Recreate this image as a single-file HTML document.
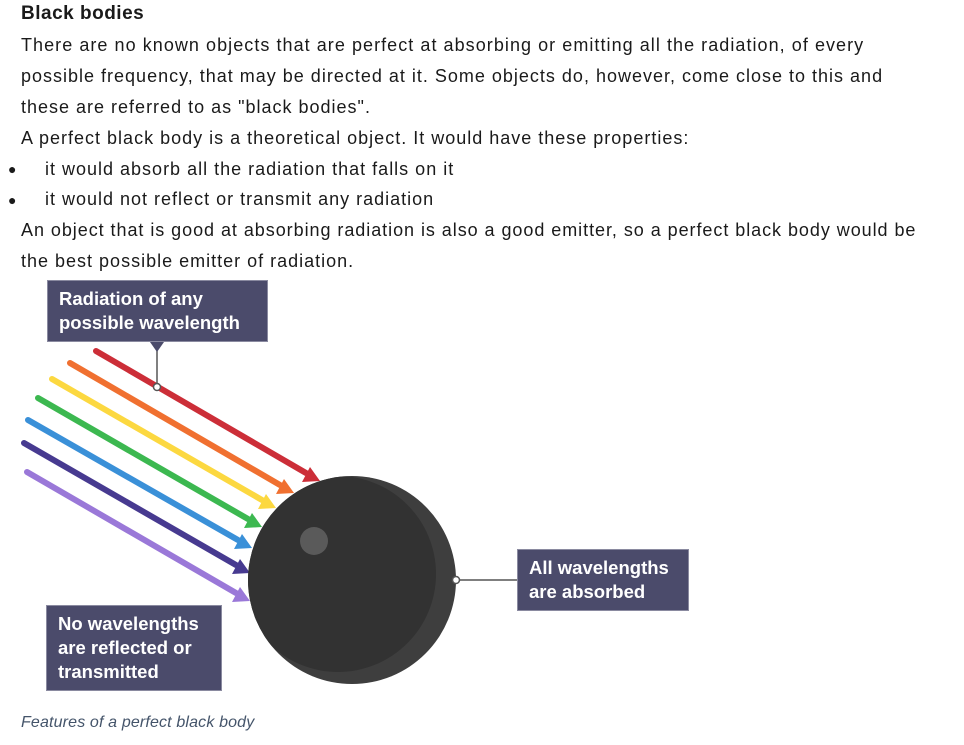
<!DOCTYPE html>
<html><head><meta charset="utf-8">
<style>
body{margin:0;width:964px;height:745px;background:#fff;position:relative;overflow:hidden;font-family:"Liberation Sans",sans-serif;color:#1a1a1a}
.l{position:absolute;left:21px;font-size:18px;letter-spacing:1.0px;white-space:nowrap;line-height:20px}
.b{position:absolute;left:8px;font-size:14px}
.box{position:absolute;background:#4b4b6b;color:#fff;font-weight:bold;font-size:18.5px;line-height:24px;padding:6px 11px;box-sizing:border-box;border:1px solid #8a8aa0;white-space:nowrap}
</style></head><body>
<div class="l" style="top:4px;font-weight:bold;font-size:19px;letter-spacing:0.5px">Black bodies</div>
<div class="l" style="top:35px;letter-spacing:1.05px">There are no known objects that are perfect at absorbing or emitting all the radiation, of every</div>
<div class="l" style="top:66px">possible frequency, that may be directed at it. Some objects do, however, come close to this and</div>
<div class="l" style="top:97px">these are referred to as "black bodies".</div>
<div class="l" style="top:128px">A perfect black body is a theoretical object. It would have these properties:</div>
<div class="b" style="top:161px">●</div>
<div class="l" style="top:159px;left:45px">it would absorb all the radiation that falls on it</div>
<div class="b" style="top:192px">●</div>
<div class="l" style="top:189px;left:45px">it would not reflect or transmit any radiation</div>
<div class="l" style="top:220px;letter-spacing:0.95px">An object that is good at absorbing radiation is also a good emitter, so a perfect black body would be</div>
<div class="l" style="top:251px">the best possible emitter of radiation.</div>

<svg width="964" height="745" style="position:absolute;left:0;top:0">
<defs>
<clipPath id="c"><circle cx="352" cy="580" r="104"/></clipPath>
</defs>
<g stroke-width="6" stroke-linecap="round">
<line x1="96" y1="351" x2="306" y2="473" stroke="#cc2e38"/>
<line x1="70" y1="363" x2="280" y2="485" stroke="#f07030"/>
<line x1="52" y1="379" x2="262" y2="500" stroke="#fcd840"/>
<line x1="38" y1="398" x2="248" y2="519" stroke="#3cb850"/>
<line x1="28" y1="420" x2="238" y2="540" stroke="#3a90d8"/>
<line x1="24" y1="443" x2="236" y2="565" stroke="#473a90"/>
<line x1="27" y1="472" x2="236" y2="593" stroke="#9a78d8"/>
</g>
<g>
<polygon points="320,481 302,482 310,467" fill="#cc2e38"/>
<polygon points="294,493 276,494 284,479" fill="#f07030"/>
<polygon points="276,508 258,509 266,494" fill="#fcd840"/>
<polygon points="262,527 244,528 252,513" fill="#3cb850"/>
<polygon points="252,548 234,549 242,534" fill="#3a90d8"/>
<polygon points="250,573 232,574 240,559" fill="#473a90"/>
<polygon points="250,601 232,602 240,587" fill="#9a78d8"/>
</g>
<g>
<circle cx="352" cy="580" r="104" fill="#3e3e3e"/>
<circle cx="338" cy="574" r="98" fill="#323232" clip-path="url(#c)"/>
<circle cx="314" cy="541" r="14" fill="#5a5a5a"/>
</g>
<line x1="157" y1="342" x2="157" y2="385" stroke="#555" stroke-width="1.5"/>
<polygon points="150,342 164,342 157,352" fill="#4b4b6b"/>
<circle cx="157" cy="387" r="3.5" fill="#fff" stroke="#555" stroke-width="1.5"/>
<line x1="459" y1="580" x2="517" y2="580" stroke="#555" stroke-width="1.5"/>
<circle cx="456" cy="580" r="3.5" fill="#fff" stroke="#555" stroke-width="1.5"/>
</svg>

<div class="box" style="left:47px;top:280px;width:221px;height:62px">Radiation of any<br>possible wavelength</div>
<div class="box" style="left:517px;top:549px;width:172px;height:62px">All wavelengths<br>are absorbed</div>
<div class="box" style="left:46px;top:605px;width:176px;height:86px">No wavelengths<br>are reflected or<br>transmitted</div>
<div class="l" style="top:713px;font-style:italic;font-size:16px;letter-spacing:0.15px;color:#44546a">Features of a perfect black body</div>
</body></html>
